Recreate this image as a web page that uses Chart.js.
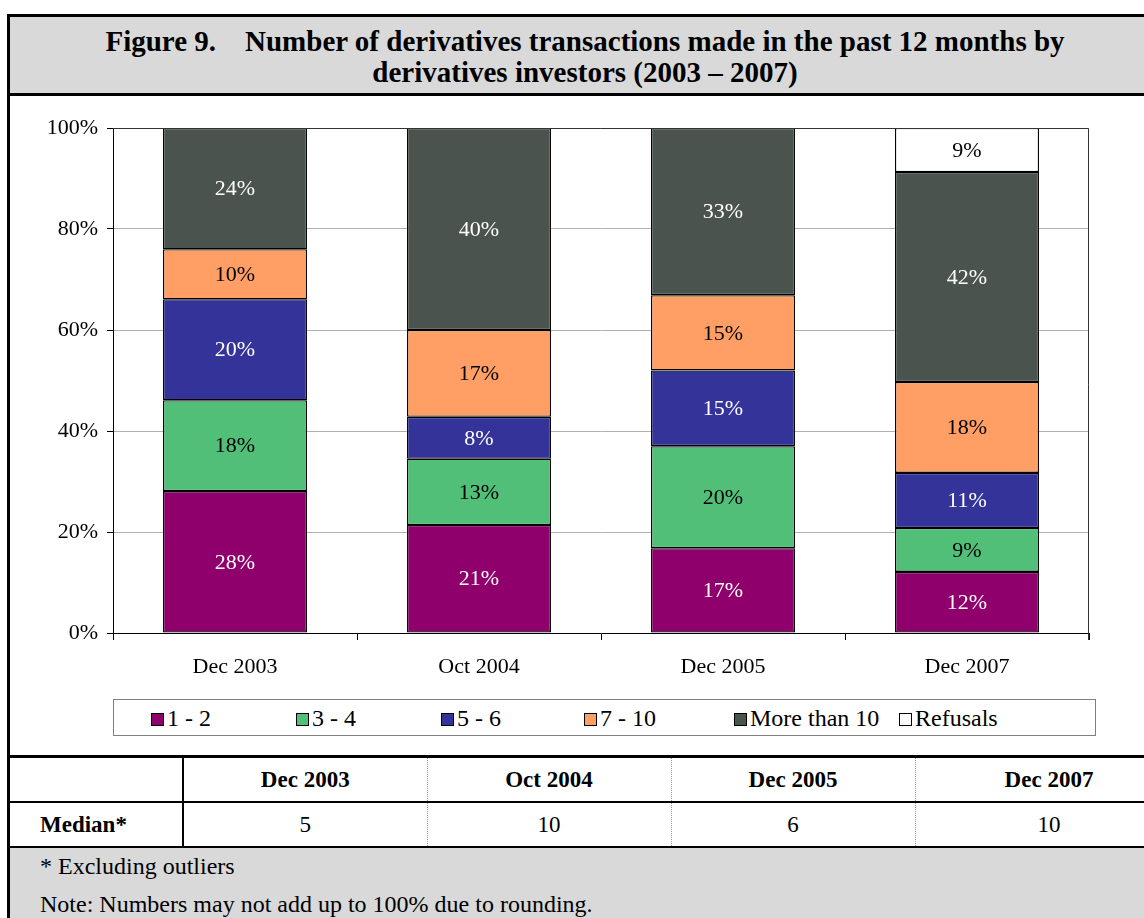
<!DOCTYPE html>
<html>
<head>
<meta charset="utf-8">
<script src="https://cdn.jsdelivr.net/npm/chart.js@4.4.1/dist/chart.umd.min.js"></script>
<style>
  body { margin: 0; width: 1144px; height: 918px; overflow: hidden; position: relative; background: #fff;
         font-family: "Liberation Serif", "Times New Roman", serif; color: #000; }
  .title { position: absolute; left: 7px; top: 14px; width: 1150px; height: 76px; background: #d9d9d9;
           border: 3px solid #000; border-right: none; text-align: center; font-weight: bold;
           font-size: 29px; line-height: 31px; }
  .title .in { position: absolute; left: 0; right: 0; top: 9px; white-space: nowrap; }
  .chartBox { position: absolute; left: 10px; top: 99px; width: 1147px; height: 657px; }
  #mainChart { position: absolute; left: 0px; top: 0px; }
  .borda { position: absolute; left: 7px; top: 96px; width: 3px; height: 830px; background: #000; }
  .legend { position: absolute; left: 113px; top: 699px; width: 981px; height: 35px; border: 1px solid #7f7f7f;
            font-size: 24px; }
  .legend .item { position: absolute; top: 0; line-height: 36px; white-space: nowrap; }
  .legend .sw { display: inline-block; width: 11px; height: 11px; border: 1px solid #000; margin-right: 3px;
                vertical-align: 0px; }
  table.median { position: absolute; left: 10px; top: 755px; border-collapse: collapse; font-size: 23px;
                 table-layout: fixed; width: 1173px; }
  table.median td { height: 43px; padding: 0; text-align: center; }
  table.median tr.r1 td { border-top: 3px solid #000; border-bottom: 2px solid #000; }
  table.median tr.r2 td { border-bottom: 3px solid #000; }
  table.median td.lab { text-align: left; padding-left: 30px; font-weight: bold; border-right: 2px solid #000; }
  table.median td.col { border-right: 1px dotted #999; }
  table.median tr.r1 td.col { font-weight: bold; }
  .notes { position: absolute; left: 10px; top: 848px; width: 1147px; height: 80px; background: #d9d9d9;
           font-size: 24px; }
  .notes p { margin: 0; position: absolute; left: 30px; }
</style>
</head>
<body>
<div class="title"><div class="in">Figure 9.&nbsp;&nbsp;&nbsp;&nbsp;Number of derivatives transactions made in the past 12 months by<br>derivatives investors (2003 – 2007)</div></div>

<div class="chartBox">
  <canvas id="mainChart" width="1137" height="600"></canvas>
</div>
<div class="legend" id="legend"></div>

<table class="median" id="medianTable">
  <colgroup><col style="width:173px"><col style="width:244px"><col style="width:244px"><col style="width:244px"><col style="width:268px"></colgroup>
</table>

<div class="notes">
  <p style="top:5px">* Excluding outliers</p>
  <p style="top:43px">Note: Numbers may not add up to 100% due to rounding.</p>
</div>
<div class="borda"></div>

<script>
// categorias e séries (percentual)
const periodos = ['Dec 2003', 'Oct 2004', 'Dec 2005', 'Dec 2007'];
const faixas = ['1 - 2', '3 - 4', '5 - 6', '7 - 10', 'More than 10', 'Refusals'];
const um_dois = [28.1, 21.4, 16.8, 12.1];
const tres_quatro = [18.0, 13.1, 20.2, 8.7];
const cinco_seis = [20.0, 8.3, 15.0, 10.9];
const sete_dez = [9.9, 17.2, 14.9, 18.0];
const maisDez = [24.0, 40.0, 33.1, 41.6];
const recusas = [null, null, null, 8.7];
const medianas = [5, 10, 6, 10];
const yTicks = [0, 20, 40, 60, 80, 100];

const cores = ['#8f006c', '#52bf79', '#333399', '#ff9f66', '#4b534e', '#ffffff'];
const corTexto = ['#fff', '#000', '#fff', '#000', '#fff', '#000'];
const series = [um_dois, tres_quatro, cinco_seis, sete_dez, maisDez, recusas];

const fonte = '"Liberation Serif", "Times New Roman", serif';

// rótulos dentro de cada segmento + borda da área do gráfico
const rotulos = {
  id: 'rotulos',
  afterDatasetsDraw(chart) {
    const c = chart.ctx;
    c.save();
    c.font = '22px ' + fonte;
    c.textAlign = 'center';
    c.textBaseline = 'middle';
    chart.data.datasets.forEach((ds, i) => {
      chart.getDatasetMeta(i).data.forEach((bar, j) => {
        const v = ds.data[j];
        if (v == null) return;
        c.fillStyle = corTexto[i];
        c.fillText(Math.round(v) + '%', bar.x, (bar.y + bar.base) / 2 + 1);
      });
    });
    const a = chart.chartArea;
    c.strokeStyle = '#333';
    c.lineWidth = 1;
    c.beginPath();
    c.moveTo(a.left, a.top + 0.5);
    c.lineTo(a.right - 0.5, a.top + 0.5);
    c.lineTo(a.right - 0.5, a.bottom + 7);
    c.stroke();
    c.restore();
  }
};

const chart = new Chart(document.getElementById('mainChart'), {
  type: 'bar',
  data: {
    labels: periodos,
    datasets: series.map((d, i) => ({
      label: faixas[i],
      data: d,
      backgroundColor: cores[i],
      borderColor: '#000',
      borderWidth: 1.3,
      borderSkipped: false,
      barPercentage: 0.59,
      categoryPercentage: 1
    }))
  },
  options: {
    responsive: false,
    animation: false,
    layout: { padding: { top: 29, right: 58, left: 0, bottom: 0 } },
    plugins: { legend: { display: false }, tooltip: { enabled: false } },
    scales: {
      x: {
        stacked: true,
        grid: { drawOnChartArea: false, tickLength: 7, tickColor: '#000', offset: true },
        border: { color: '#000' },
        ticks: { color: '#000', font: { family: fonte, size: 22 }, padding: 14 },
        afterFit: s => { s.height = 66; }
      },
      y: {
        stacked: true,
        min: 0,
        max: 100,
        afterBuildTicks: s => { s.ticks = yTicks.map(v => ({ value: v })); },
        grid: { color: '#b0b0b0', tickColor: '#000', tickLength: 6 },
        border: { color: '#000' },
        ticks: { color: '#000', font: { family: fonte, size: 22 }, padding: 9, callback: v => v + '%' },
        afterFit: s => { s.width = 103; }
      }
    }
  },
  plugins: [rotulos]
});

// legenda em caixa, como no original
const legendaX = [37, 182, 327, 470, 620, 785];
const legenda = document.getElementById('legend');
faixas.forEach((f, i) => {
  const el = document.createElement('div');
  el.className = 'item';
  el.style.left = legendaX[i] + 'px';
  el.innerHTML = `<span class="sw" style="background:${cores[i]}"></span>${f}`;
  legenda.appendChild(el);
});

// tabela de medianas
const tabela = document.getElementById('medianTable');
let h = '<tr class="r1"><td class="lab"></td>';
periodos.forEach(p => { h += `<td class="col">${p}</td>`; });
h += '</tr><tr class="r2"><td class="lab">Median*</td>';
medianas.forEach(m => { h += `<td class="col">${m}</td>`; });
h += '</tr>';
tabela.insertAdjacentHTML('beforeend', h);
</script>
</body>
</html>
